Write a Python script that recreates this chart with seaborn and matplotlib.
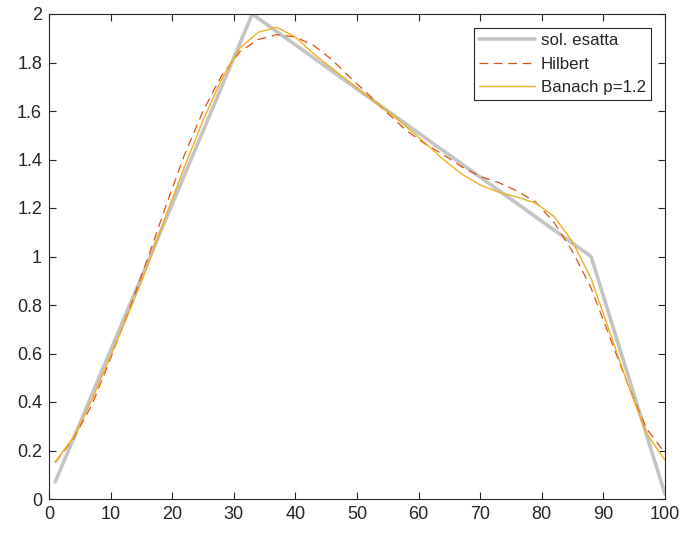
import pandas as pd
import seaborn as sns
import matplotlib.pyplot as plt

# soluzione esatta (spezzata)
x_exact = [1, 33, 88, 100]
y_exact = [0.07, 2.0, 1.0, 0.02]

# ricostruzioni
x_rec = [1, 4, 7, 10, 13, 16, 19, 22, 25, 28, 31, 34, 37, 40, 43, 46, 49, 52,
         55, 58, 61, 64, 67, 70, 73, 76, 79, 82, 85, 88, 91, 94, 97, 100]
y_hilbert = [0.15, 0.25, 0.39, 0.58, 0.78, 0.99, 1.21, 1.42, 1.60, 1.745, 1.845,
             1.895, 1.915, 1.905, 1.87, 1.81, 1.735, 1.665, 1.59, 1.52, 1.465,
             1.42, 1.37, 1.33, 1.305, 1.27, 1.225, 1.14, 1.02, 0.87, 0.67, 0.47,
             0.29, 0.19]
y_banach = [0.153, 0.255, 0.41, 0.59, 0.77, 0.96, 1.17, 1.37, 1.56, 1.73, 1.86,
            1.925, 1.945, 1.905, 1.835, 1.775, 1.715, 1.655, 1.60, 1.535, 1.47,
            1.40, 1.34, 1.295, 1.265, 1.245, 1.22, 1.165, 1.06, 0.91, 0.69, 0.47,
            0.27, 0.16]

df_exact = pd.DataFrame({"x": x_exact, "y": y_exact})
df_rec = pd.DataFrame({"x": x_rec, "hilbert": y_hilbert, "banach": y_banach})

sns.set_style("ticks")
plt.rcParams['font.family'] = ['Liberation Sans', 'DejaVu Sans']
plt.rcParams['xtick.direction'] = 'in'
plt.rcParams['ytick.direction'] = 'in'

fig = plt.figure(figsize=(6.85, 5.36), dpi=100)
ax = fig.add_axes([49/685, 1-499/536, (665-49)/685, (499-14)/536])

sns.lineplot(data=df_exact, x="x", y="y", ax=ax, color="#c4c4c4", linewidth=2.6,
             label="sol. esatta")
sns.lineplot(data=df_rec, x="x", y="hilbert", ax=ax, color="#D95319", linewidth=0.9,
             label="Hilbert")
ax.lines[-1].set_dashes([7, 4.5])
sns.lineplot(data=df_rec, x="x", y="banach", ax=ax, color="#EDB120", linewidth=1.0,
             label="Banach p=1.2")

ax.set_xlim(0, 100)
ax.set_ylim(0, 2)
ax.set_xticks(range(0, 101, 10))
ax.set_yticks([0, 0.2, 0.4, 0.6, 0.8, 1, 1.2, 1.4, 1.6, 1.8, 2])
ax.set_yticklabels(["0", "0.2", "0.4", "0.6", "0.8", "1", "1.2", "1.4", "1.6", "1.8", "2"])
ax.set_xlabel("")
ax.set_ylabel("")
ax.tick_params(axis="both", labelsize=13, colors="#262626", length=5, width=0.8,
               top=True, right=True, pad=5)
for s in ax.spines.values():
    s.set_color("#262626")
    s.set_linewidth(0.8)

leg = ax.legend(loc="upper right", bbox_to_anchor=(0.977, 0.971), fontsize=12.2,
                handlelength=3.3, fancybox=False, framealpha=1, borderpad=0.3,
                labelspacing=0.5, handletextpad=0.35, borderaxespad=0)
leg.get_frame().set_edgecolor("#262626")
leg.get_frame().set_linewidth(0.8)

plt.savefig("out.png", dpi=100)
